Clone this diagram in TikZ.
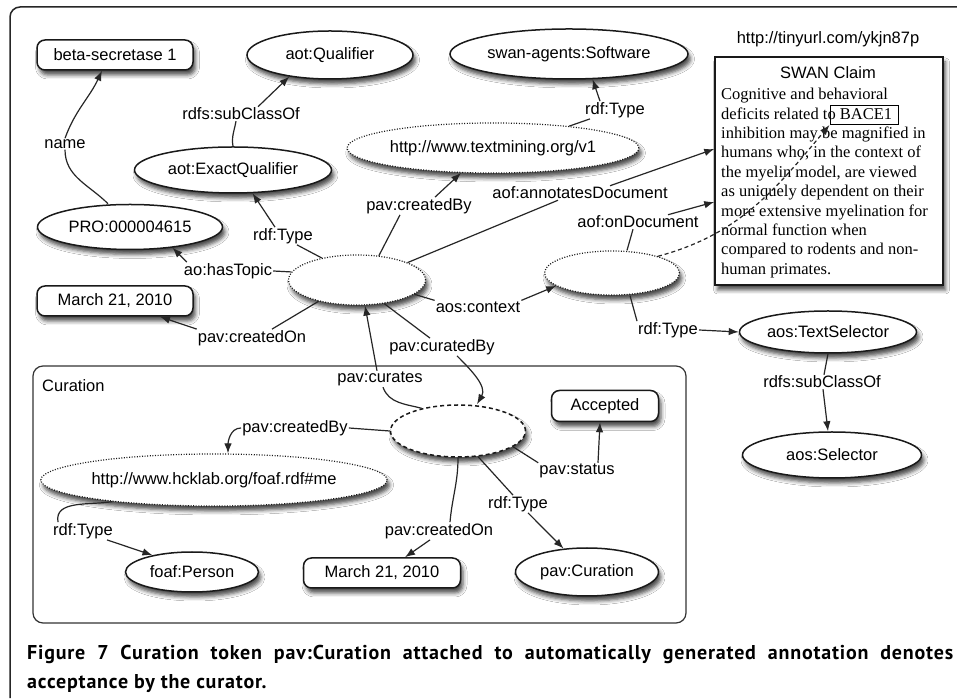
\documentclass[tikz,border=0pt]{standalone}
\usepackage{fontspec}
\setmainfont{Liberation Sans}
\newfontfamily\claimfont{Liberation Serif}
\newfontfamily\capfont[LetterSpace=4]{PT Sans}
\usetikzlibrary{shapes.geometric,arrows.meta,shadows.blur}

\begin{document}
\begin{tikzpicture}[x=1pt,y=1pt,
 lbl/.style={font=\fontsize{16.5}{19}\selectfont, inner sep=1pt},
 shd/.style={blur shadow={shadow xshift=2.5pt,shadow yshift=-5pt,shadow blur radius=4pt,shadow opacity=70}},
 ell/.style={ellipse, draw=black!90, line width=1.5pt, fill=white, shd, inner sep=0pt, font=\fontsize{16.5}{19}\selectfont},
 dotell/.style={ell, dash pattern=on 1pt off 1.6pt, line width=1.2pt},
 dashell/.style={ell, dash pattern=on 4pt off 3pt},
 rr/.style={rectangle, rounded corners=8pt, draw=black!90, line width=1.5pt, fill=white, shd, inner sep=0pt, font=\fontsize{16.5}{19}\selectfont},
 con/.style={draw=black!85, line width=1.2pt},
 arr/.style={con, -{Latex[length=10pt,width=7.5pt]}},
 captext/.style={anchor=base west, inner sep=0pt, font={\capfont\bfseries\fontsize{20}{23}\selectfont}}
]
\useasboundingbox (0,0) rectangle (957,698);
\fill[white] (0,0) rectangle (957,698);
% outer frame
\draw[line width=1.5pt, black!85, rounded corners=10pt] (10,0) -- (10,691) -- (957,691);

% curation box
\node[draw=black!80, line width=1.2pt, rounded corners=10pt, minimum width=653pt, minimum height=257pt, inner sep=0pt] (curbox) at (359.5,203.5) {};
\node[lbl, anchor=west] (curlbl) at (41,312) {Curation};

% nodes
\node[rr, minimum width=156pt, minimum height=30pt] (beta) at (115,643) {beta-secretase 1};
\node[ell, minimum width=166pt, minimum height=48pt] (qual) at (330,643) {aot:Qualifier};
\node[ell, minimum width=238pt, minimum height=50pt] (swsoft) at (569,644) {swan-agents:Software};
\node[lbl] (tiny) at (828,659) {http://tinyurl.com/ykjn87p};
\node[rectangle, draw=black!90, line width=1.5pt, fill=white, shd, minimum width=228pt, minimum height=228pt, inner sep=0pt] (claim) at (829,527) {};
\node[lbl] (swan) at (828,625) {SWAN Claim};
\node[anchor=north west, inner sep=0pt, align=left, font={\claimfont\fontsize{16.5}{19.4}\selectfont}] (ctext) at (721,610)
 {Cognitive and behavioral\\deficits related to BACE1\\inhibition may be magnified in\\humans who, in the context of\\the myelin model, are viewed\\as uniquely dependent on their\\more extensive myelination for\\normal function when\\compared to rodents and non-\\human primates.};
\node[draw=black, line width=1pt, minimum width=68pt, minimum height=19pt, inner sep=0pt] (bace) at (864,583) {};
\node[ell, minimum width=197pt, minimum height=46pt] (exq) at (233,528) {aot:ExactQualifier};
\node[dotell, minimum width=289pt, minimum height=50pt] (tm) at (493,550) {http://www.textmining.org/v1};
\node[ell, minimum width=185pt, minimum height=45pt] (pro) at (130,471) {PRO:000004615};
\node[dotell, minimum width=137pt, minimum height=50pt] (ann) at (357,418) {};
\node[rr, minimum width=156pt, minimum height=30pt] (date1) at (115,397) {March 21, 2010};
\node[dotell, minimum width=135pt, minimum height=44pt] (sel) at (612,425) {};
\node[ell, minimum width=177pt, minimum height=42pt] (tsel) at (828,366) {aos:TextSelector};
\node[ell, minimum width=179pt, minimum height=46pt] (aossel) at (832,243) {aos:Selector};
\node[dashell, minimum width=135pt, minimum height=52pt] (cur) at (458,267) {};
\node[rr, minimum width=107pt, minimum height=31pt] (acc) at (605,292) {Accepted};
\node[dotell, minimum width=328pt, minimum height=52pt] (hck) at (214,218) {http://www.hcklab.org/foaf.rdf\#me};
\node[ell, minimum width=133pt, minimum height=40pt] (foaf) at (192,126) {foaf:Person};
\node[rr, minimum width=157pt, minimum height=30pt] (date2) at (382,125) {March 21, 2010};
\node[ell, minimum width=143pt, minimum height=48pt] (pcur) at (587,126) {pav:Curation};

% edge labels
\node[lbl] (lname) at (65,554) {name};
\node[lbl] (lsub1) at (241,584) {rdfs:subClassOf};
\node[lbl] (lcb1) at (419,492) {pav:createdBy};
\node[lbl] (lrt1) at (283,462) {rdf:Type};
\node[lbl] (lht) at (228,427) {ao:hasTopic};
\node[lbl] (lco1) at (252,360) {pav:createdOn};
\node[lbl] (lctx) at (478,391) {aos:context};
\node[lbl] (lcurby) at (442,351) {pav:curatedBy};
\node[lbl] (lcurs) at (380,319) {pav:curates};
\node[lbl] (lrt2) at (615,588) {rdf:Type};
\node[lbl] (lad) at (580,505) {aof:annotatesDocument};
\node[lbl] (lod) at (638,476) {aof:onDocument};
\node[lbl] (lrt3) at (668,368) {rdf:Type};
\node[lbl] (lsub2) at (822,316) {rdfs:subClassOf};
\node[lbl] (lcb2) at (295,270) {pav:createdBy};
\node[lbl] (lrt4) at (83,167) {rdf:Type};
\node[lbl] (lco2) at (439,167) {pav:createdOn};
\node[lbl] (lst) at (577,227) {pav:status};
\node[lbl] (lrt5) at (518,194) {rdf:Type};

% edges
\draw[con] ([xshift=-22pt]pro.north) to[out=135,in=-90] (lname.south);
\draw[arr] (lname.north) to[out=70,in=-115] ([xshift=-13pt]beta.south);

\draw[con] (exq.north) to[out=100,in=-100] ([xshift=-5pt]lsub1.south);
\draw[arr] ([xshift=17pt]lsub1.north) -- (qual.208);

\draw[con] (ann.148) -- ([xshift=14pt]lrt1.south);
\draw[arr] ([xshift=-8pt]lrt1.north) -- (exq.310);

\draw[con] (ann.173) -- (lht.east);
\draw[arr] ([xshift=4pt]lht.north west) -- (pro.334);

\draw[con] (ann.48) -- ([xshift=-19pt]lcb1.south);
\draw[arr] ([xshift=16pt]lcb1.north) -- (tm.218);

\draw[con] (ann.19) -- ([xshift=-22pt]lad.south);
\draw[arr] ([xshift=30pt]lad.north) -- ([yshift=22pt]claim.west);

\draw[con] (tm.16) -- ([xshift=-25pt]lrt2.south);
\draw[arr] ([xshift=-15pt]lrt2.north) -- (swsoft.313);

\draw[con] (ann.209) -- ([xshift=20pt]lco1.north);
\draw[arr] (lco1.north west) -- ([xshift=45pt]date1.south);

\draw[con] (ann.346) -- (lctx.north west);
\draw[arr] (lctx.north east) -- (sel.193);

\draw[con] ([xshift=15pt]sel.north) -- ([xshift=-5pt]lod.south);
\draw[arr] ([xshift=30pt]lod.north) -- ([yshift=-31pt]claim.west);

\draw[arr, dash pattern=on 4pt off 3pt] (sel.20) to[out=15,in=-130] (bace.south west);

\draw[con] ([xshift=18pt]sel.south) -- (lrt3.north west);
\draw[arr] (lrt3.east) -- (tsel.west);

\draw[con] (tsel.south) -- ([xshift=2pt]lsub2.north);
\draw[arr] ([xshift=1pt]lsub2.south) -- ([xshift=-4pt]aossel.north);

\draw[con] (ann.319) -- ([xshift=-12pt]lcurby.north);
\draw[arr] ([xshift=15pt]lcurby.south) to[out=-45,in=60] ([xshift=19pt]cur.north);

\draw[con] (cur.148) to[out=165,in=-70] ([xshift=3pt]lcurs.south);
\draw[arr] ([xshift=-3pt]lcurs.north) -- ([xshift=8pt]ann.south);

\draw[con] (cur.west) -- (lcb2.east);
\draw[arr] (lcb2.west) to[out=180,in=90] ([xshift=14pt]hck.north);

\draw[con] (hck.192) to[out=190,in=100] ([xshift=-25pt]lrt4.north);
\draw[arr] ([xshift=24pt]lrt4.south) -- (foaf.157);

\draw[con] (cur.south) to[out=-90,in=85] ([xshift=11pt]lco2.north);
\draw[arr] ([xshift=-9pt]lco2.south) -- ([xshift=23pt]date2.north);

\draw[con] (cur.344) -- (lst.north west);
\draw[arr] ([xshift=21pt]lst.north) -- ([xshift=-5pt]acc.south);

\draw[con] (cur.308) -- ([xshift=-5pt]lrt5.north);
\draw[arr] ([xshift=10pt]lrt5.south) -- (pcur.135);

% caption
\node[captext] (cap1) at (27,38) {\makebox[926pt][s]{Figure 7 Curation token pav:Curation attached to automatically generated annotation denotes}};
\node[captext] (cap2) at (27,10) {acceptance by the curator.};
\end{tikzpicture}
\end{document}
